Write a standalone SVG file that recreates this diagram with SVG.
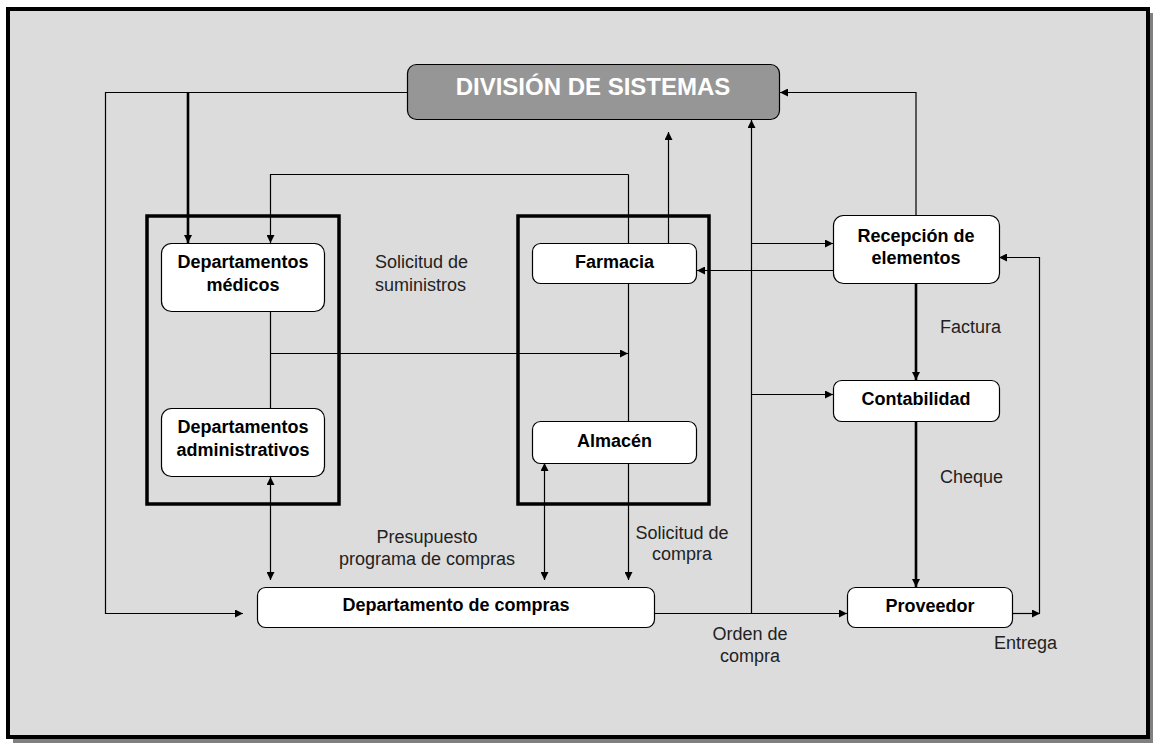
<svg xmlns="http://www.w3.org/2000/svg" width="1153" height="743" viewBox="0 0 1153 743">
  <style>
    .node rect { fill: #ffffff; stroke: #000000; stroke-width: 1.2; }
    .node text { font-family: "Liberation Sans", Arial, sans-serif; font-size: 18px; font-weight: bold; fill: #000000; text-anchor: middle; }
    .group rect { fill: none; stroke: #000000; stroke-width: 3.5; }
    .conn path { fill: none; stroke: #000000; stroke-width: 1.2; }
    .conn path.thick { stroke-width: 2.6; }
    .label { font-family: "Liberation Sans", Arial, sans-serif; font-size: 18px; fill: #222222; }
  </style>
  <defs>
    <marker id="arrow" viewBox="0 0 10 10" refX="10" refY="5" markerWidth="9" markerHeight="8" markerUnits="userSpaceOnUse" orient="auto-start-reverse">
      <path d="M0,0 L10,5 L0,10 Z" fill="#000000"/>
    </marker>
  </defs>

  <!-- page frame with drop shadow -->
  <rect x="0" y="0" width="1153" height="743" fill="#ffffff"/>
  <rect x="13" y="13" width="1140" height="730" fill="#808080"/>
  <rect x="8" y="9" width="1140" height="728" fill="#dcdcdc" stroke="#000000" stroke-width="4"/>

  <!-- grouping frames -->
  <g id="grupo-departamentos" class="group"><rect x="147" y="216" width="192" height="288"/></g>
  <g id="grupo-farmacia-almacen" class="group"><rect x="518" y="216" width="191" height="288"/></g>

  <!-- connectors -->
  <g id="connectors" class="conn">
    <path d="M407,92.5 H105.5 V613.5 H243" marker-end="url(#arrow)"/>
    <path class="thick" d="M188,92.5 V243" marker-end="url(#arrow)"/>
    <path d="M628.5,174.5 H270.5 V243" marker-end="url(#arrow)"/>
    <path d="M628.5,174.5 V580" marker-end="url(#arrow)"/>
    <path d="M668.5,243 V132" marker-end="url(#arrow)"/>
    <path d="M751.5,613.5 V120" marker-end="url(#arrow)"/>
    <path d="M751.5,243.5 H833" marker-end="url(#arrow)"/>
    <path d="M751.5,394.5 H833" marker-end="url(#arrow)"/>
    <path d="M833,270.5 H697" marker-end="url(#arrow)"/>
    <path d="M916,215 V92.5 H780" stroke-width="1.8" marker-end="url(#arrow)"/>
    <path class="thick" d="M916,283 V380" marker-end="url(#arrow)"/>
    <path class="thick" d="M916,421 V587" marker-end="url(#arrow)"/>
    <path d="M1012,613.5 H1040" marker-end="url(#arrow)"/>
    <path d="M1039.5,613.5 V257.5 H999" marker-end="url(#arrow)"/>
    <path d="M655,613.5 H847" marker-end="url(#arrow)"/>
    <path d="M270.5,311 V408"/>
    <path d="M270.5,353.5 H628" marker-end="url(#arrow)"/>
    <path d="M270.5,477 V580" marker-start="url(#arrow)" marker-end="url(#arrow)"/>
    <path d="M544.5,463 V580" marker-start="url(#arrow)" marker-end="url(#arrow)"/>
  </g>

  <!-- nodes -->
  <g id="division-sistemas">
    <rect x="407.5" y="64.5" width="372" height="55" rx="9" fill="#969696" stroke="#000000" stroke-width="1.2"/>
    <text x="593" y="95" font-family="Liberation Sans, Arial, sans-serif" font-size="24" font-weight="bold" fill="#ffffff" text-anchor="middle">DIVISIÓN DE SISTEMAS</text>
  </g>
  <g id="departamentos-medicos" class="node">
    <rect x="161.5" y="243.5" width="163" height="68" rx="10"/>
    <text x="243" y="268">Departamentos</text>
    <text x="243" y="291">médicos</text>
  </g>
  <g id="departamentos-administrativos" class="node">
    <rect x="161.5" y="408.5" width="163" height="68" rx="10"/>
    <text x="243" y="433">Departamentos</text>
    <text x="243" y="456">administrativos</text>
  </g>
  <g id="farmacia" class="node">
    <rect x="532.5" y="243.5" width="164" height="40" rx="8"/>
    <text x="614.5" y="268">Farmacia</text>
  </g>
  <g id="almacen" class="node">
    <rect x="532.5" y="421.5" width="164" height="42" rx="8"/>
    <text x="614.5" y="447">Almacén</text>
  </g>
  <g id="recepcion" class="node">
    <rect x="833.5" y="215.5" width="166" height="68" rx="10"/>
    <text x="916" y="242">Recepción de</text>
    <text x="916" y="264">elementos</text>
  </g>
  <g id="contabilidad" class="node">
    <rect x="833.5" y="380.5" width="166" height="41" rx="8"/>
    <text x="916" y="405">Contabilidad</text>
  </g>
  <g id="proveedor" class="node">
    <rect x="847.5" y="587.5" width="165" height="40" rx="8"/>
    <text x="930" y="612">Proveedor</text>
  </g>
  <g id="departamento-compras" class="node">
    <rect x="257.5" y="587.5" width="397" height="40" rx="8"/>
    <text x="456" y="611">Departamento de compras</text>
  </g>

  <!-- flow labels -->
  <g id="labels">
    <text class="label" x="375" y="268">Solicitud de</text>
    <text class="label" x="375" y="291">suministros</text>
    <text class="label" x="427" y="543" text-anchor="middle">Presupuesto</text>
    <text class="label" x="427" y="565" text-anchor="middle">programa de compras</text>
    <text class="label" x="682" y="539" text-anchor="middle">Solicitud de</text>
    <text class="label" x="682" y="560" text-anchor="middle">compra</text>
    <text class="label" x="940" y="333">Factura</text>
    <text class="label" x="940" y="483">Cheque</text>
    <text class="label" x="750" y="640" text-anchor="middle">Orden de</text>
    <text class="label" x="750" y="662" text-anchor="middle">compra</text>
    <text class="label" x="994" y="649">Entrega</text>
  </g>
</svg>
